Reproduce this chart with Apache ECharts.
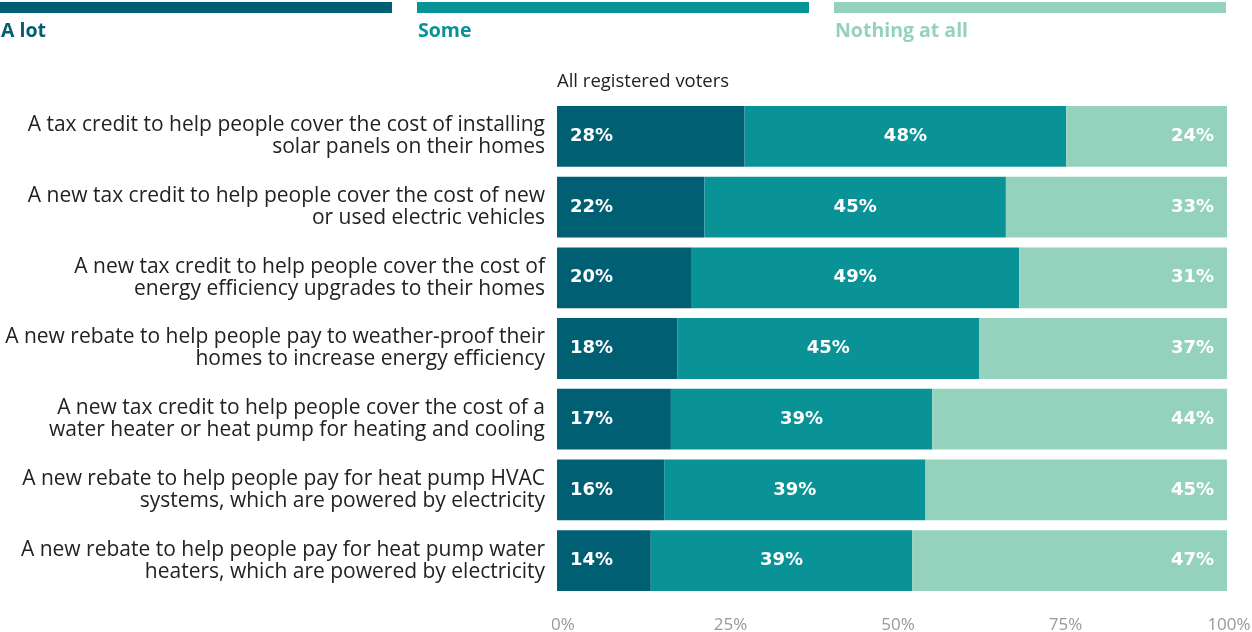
<!DOCTYPE html>
<html><head><meta charset="utf-8">
<script src="https://cdn.jsdelivr.net/npm/echarts@6/dist/echarts.min.js"></script>
<style>html,body{margin:0;padding:0;background:#fff}#c{width:1252px;height:632px}</style>
</head><body><div id="c"></div>
<script>
const categories = [
  "A tax credit to help people cover the cost of installing\nsolar panels on their homes",
  "A new tax credit to help people cover the cost of new\nor used electric vehicles",
  "A new tax credit to help people cover the cost of\nenergy efficiency upgrades to their homes",
  "A new rebate to help people pay to weather-proof their\nhomes to increase energy efficiency",
  "A new tax credit to help people cover the cost of a\nwater heater or heat pump for heating and cooling",
  "A new rebate to help people pay for heat pump HVAC\nsystems, which are powered by electricity",
  "A new rebate to help people pay for heat pump water\nheaters, which are powered by electricity"
];
const seriesNames = ["A lot", "Some", "Nothing at all"];
const aLot = [28, 22, 20, 18, 17, 16, 14];
const some = [48, 45, 49, 45, 39, 39, 39];
const nothing = [24, 33, 31, 37, 44, 45, 47];
const colors = ["#005f73", "#0a9396", "#94d2bd"];
const xTicks = [0, 25, 50, 75, 100];
const subtitle = "All registered voters";

const FONT = "'Open Sans'";
const FONTB = "'DejaVu Sans'";
const chart = echarts.init(document.getElementById('c'));
const values = [aLot, some, nothing];
const positions = ['insideLeft', 'inside', 'insideRight'];

const legendGraphics = [];
const segW = 392, gap = 25;
seriesNames.forEach((n, i) => {
  const x = i * (segW + gap);
  legendGraphics.push({type: 'rect', left: x, top: 2, shape: {width: segW, height: 11}, style: {fill: colors[i]}});
  legendGraphics.push({type: 'text', left: x + 1, top: 21, style: {text: n, fill: colors[i], font: "bold 19.5px " + FONT}});
});
legendGraphics.push({type: 'text', left: 557, top: 72, style: {text: subtitle, fill: '#222', font: "18.5px " + FONT}});

chart.setOption({
  animation: false,
  textStyle: {fontFamily: FONT},
  graphic: legendGraphics,
  grid: {left: 557, right: 25, top: 101, bottom: 36, containLabel: false, outerBoundsMode: 'none'},
  xAxis: {
    type: 'value', min: 0, max: 100, interval: 25,
    splitLine: {show: false}, axisLine: {show: false}, axisTick: {show: false},
    axisLabel: {
      color: '#999', fontSize: 17, margin: 21,
      formatter: v => xTicks.includes(v) ? (v === 100 ? '{e|' + v + '%}' : '{n|' + v + '%}') : '',
      rich: {
        n: {color: '#999', fontSize: 17, fontFamily: FONT, padding: [0, 0, 0, 12]},
        e: {color: '#999', fontSize: 17, fontFamily: FONT, padding: [0, 0, 0, 4]}
      }
    }
  },
  yAxis: {
    type: 'category', data: categories, inverse: true,
    axisLine: {show: false}, axisTick: {show: false},
    axisLabel: {color: '#222', fontSize: 21, lineHeight: 22, margin: 12, align: 'right', padding: [4, 0, 0, 0]}
  },
  series: seriesNames.map((n, i) => ({
    name: n, type: 'bar', stack: 'total', barCategoryGap: '14%',
    itemStyle: {color: colors[i]},
    data: values[i],
    label: {show: true, position: positions[i], distance: 13, color: '#fff', fontWeight: 'bold', fontFamily: FONTB, fontSize: 18, padding: [3, 0, 0, 0], formatter: p => p.value + '%'}
  }))
});
</script></body></html>
